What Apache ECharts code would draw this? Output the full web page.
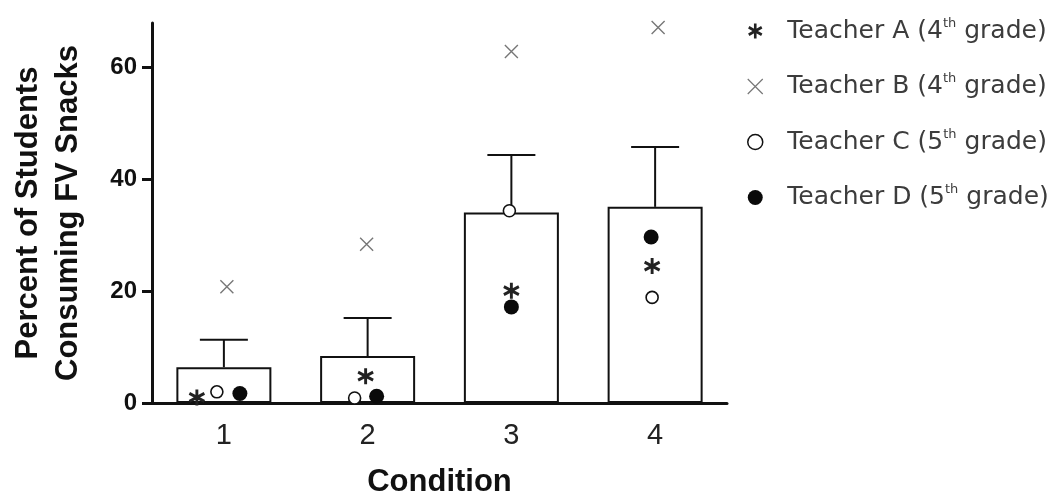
<!DOCTYPE html>
<html>
<head>
<meta charset="utf-8">
<script src="https://cdn.jsdelivr.net/npm/echarts@6/dist/echarts.min.js"></script>
<style>
  html, body { margin: 0; padding: 0; background: #fff; }
  #chart { width: 1055px; height: 496px; }
</style>
</head>
<body>
<div id="chart"></div>
<script>
// 数据
var conditions = ['1', '2', '3', '4'];
var meanPct = [6.4, 8.4, 34.1, 35.1];
var semPct = [4.9, 6.8, 10.3, 10.7];
var teacherA = [1.0, 4.8, 20.1, 24.5];
var teacherB = [20.8, 28.4, 62.9, 67.2];
var teacherC = [2.0, 0.9, 34.4, 18.9];
var teacherD = [1.7, 1.2, 17.2, 29.7];
var yTicks = [0, 20, 40, 60];

// 点的横向错开（像素）
var jitter = {
    A: [-27, -2, 0, -3],
    B: [3, -1, 0, 3],
    C: [-7, -13, -2, -3],
    D: [16, 9, 0, -4]
};

var asteriskPath = 'path://M5,0L5,10M0.67,2.5L9.33,7.5M0.67,7.5L9.33,2.5';
var crossPath = 'path://M0,0L10,10M0,10L10,0';

function withJitter(vals, offs) {
    return vals.map(function(v, i) {
        return { value: v, symbolOffset: [offs[i], 0] };
    });
}

var chart = echarts.init(document.getElementById('chart'));

var option = {
    animation: false,
    grid: {
        left: 152,
        right: 328,
        top: 23,
        bottom: 93,
        outerBoundsMode: 'none'
    },
    legend: {
        orient: 'vertical',
        left: 742,
        top: 12,
        itemWidth: 30,
        itemHeight: 15,
        itemGap: 29,
        data: [
            { name: 'Teacher A (4th grade)', itemStyle: { borderWidth: 2.6 } },
            { name: 'Teacher B (4th grade)', itemStyle: { borderWidth: 1.2 } },
            { name: 'Teacher C (5th grade)', itemStyle: { borderWidth: 1.5 } },
            { name: 'Teacher D (5th grade)' }
        ],
        formatter: function(name) {
            var m = name.match(/^(.*\(\d)(th)( grade\))$/);
            return '{a|' + m[1] + '}{sup|' + m[2] + '}{b|' + m[3] + '}';
        },
        textStyle: {
            color: '#3c3c3c',
            fontFamily: 'DejaVu Sans',
            rich: {
                a: { fontSize: 25, lineHeight: 28, color: '#3c3c3c', fontFamily: 'DejaVu Sans', padding: [0, 0, 0, 12] },
                b: { fontSize: 25, lineHeight: 28, color: '#3c3c3c', fontFamily: 'DejaVu Sans' },
                sup: { fontSize: 13, lineHeight: 14, verticalAlign: 'top', color: '#3c3c3c', fontFamily: 'DejaVu Sans' }
            }
        }
    },
    xAxis: {
        type: 'category',
        data: conditions,
        name: 'Condition',
        nameLocation: 'middle',
        nameGap: 64,
        nameTextStyle: {
            color: '#111',
            fontFamily: 'Liberation Sans',
            fontWeight: 'bold',
            fontSize: 31
        },
        axisLine: { lineStyle: { color: '#111', width: 3 } },
        axisTick: { show: false },
        axisLabel: {
            color: '#222',
            fontFamily: 'Liberation Sans',
            fontSize: 29,
            margin: 18
        }
    },
    yAxis: {
        type: 'value',
        min: 0,
        max: 68,
        interval: 20,
        name: 'Percent of Students\nConsuming FV Snacks',
        nameLocation: 'middle',
        nameGap: 64,
        nameTextStyle: {
            color: '#111',
            fontFamily: 'Liberation Sans',
            fontWeight: 'bold',
            fontSize: 31,
            lineHeight: 40
        },
        splitLine: { show: false },
        axisLine: { show: true, lineStyle: { color: '#111', width: 3 } },
        axisTick: {
            show: true,
            length: 10,
            lineStyle: { color: '#111', width: 3 },
            customValues: yTicks
        },
        axisLabel: {
            color: '#111',
            fontFamily: 'Liberation Sans',
            fontWeight: 'bold',
            fontSize: 24,
            margin: 15,
            customValues: yTicks
        }
    },
    series: [
        {
            name: 'Mean',
            type: 'bar',
            barWidth: 95,
            data: meanPct,
            itemStyle: {
                color: '#fff',
                borderColor: '#111',
                borderWidth: 2
            },
            z: 1
        },
        {
            name: 'SEM',
            type: 'custom',
            data: meanPct.map(function(m, i) { return [i, m, m + semPct[i]]; }),
            renderItem: function(params, api) {
                var base = api.coord([api.value(0), api.value(1)]);
                var top = api.coord([api.value(0), api.value(2)]);
                var half = 24;
                var st = { stroke: '#111', lineWidth: 2 };
                return {
                    type: 'group',
                    children: [
                        { type: 'line', shape: { x1: base[0], y1: base[1], x2: top[0], y2: top[1] }, style: st },
                        { type: 'line', shape: { x1: top[0] - half, y1: top[1], x2: top[0] + half, y2: top[1] }, style: st }
                    ]
                };
            },
            z: 2
        },
        {
            name: 'Teacher A (4th grade)',
            type: 'scatter',
            symbol: asteriskPath,
            symbolSize: [15, 16],
            data: withJitter(teacherA, jitter.A),
            itemStyle: { color: 'rgba(0,0,0,0)', borderColor: '#222', borderWidth: 3, opacity: 1 },
            z: 5
        },
        {
            name: 'Teacher B (4th grade)',
            type: 'scatter',
            symbol: crossPath,
            symbolSize: 13,
            data: withJitter(teacherB, jitter.B),
            itemStyle: { color: 'rgba(0,0,0,0)', borderColor: '#777', borderWidth: 1.4, opacity: 1 },
            z: 5
        },
        {
            name: 'Teacher C (5th grade)',
            type: 'scatter',
            symbol: 'circle',
            symbolSize: 12,
            data: withJitter(teacherC, jitter.C),
            itemStyle: { color: '#fff', borderColor: '#111', borderWidth: 1.6, opacity: 1 },
            z: 5
        },
        {
            name: 'Teacher D (5th grade)',
            type: 'scatter',
            symbol: 'circle',
            symbolSize: 15,
            data: withJitter(teacherD, jitter.D),
            itemStyle: { color: '#0a0a0a', opacity: 1 },
            z: 5
        }
    ]
};

chart.setOption(option);
</script>
</body>
</html>
